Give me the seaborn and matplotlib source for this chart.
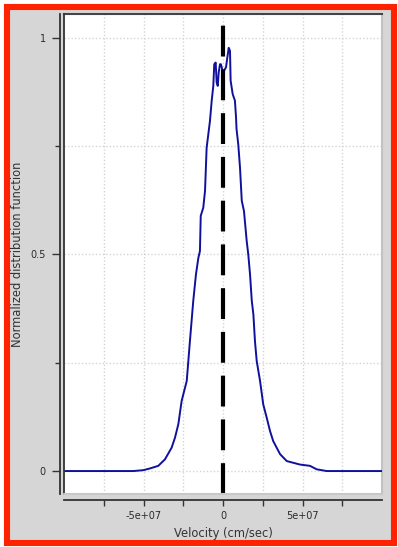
import matplotlib
matplotlib.use("Agg")
import matplotlib.pyplot as plt
from matplotlib.patches import Rectangle
from matplotlib.lines import Line2D
import seaborn as sns
import pandas as pd

# velocity in units of 1e7 cm/sec
velocity = [-10.0, -7.74, -6.16, -5.64, -5.01, -4.59, -4.07, -3.65, -3.23, -3.02,
            -2.81, -2.60, -2.28, -2.08, -1.87, -1.70, -1.55, -1.45, -1.40, -1.24,
            -1.13, -1.03, -0.82, -0.71, -0.61, -0.55, -0.46, -0.40, -0.33, -0.27,
            -0.19, -0.13, 0.0, 0.19, 0.27, 0.36, 0.44, 0.48, 0.61, 0.75,
            0.82, 0.85, 0.96, 1.07, 1.18, 1.32, 1.49, 1.59, 1.70, 1.81,
            1.91, 2.01, 2.12, 2.33, 2.53, 2.75, 2.96, 3.16, 3.59, 4.01,
            4.84, 5.47, 5.89, 6.52, 10.0]
distribution = [0.0, 0.0, 0.0, 0.0, 0.002, 0.006, 0.012, 0.027, 0.054, 0.077,
                0.108, 0.162, 0.208, 0.300, 0.393, 0.454, 0.492, 0.508, 0.589, 0.608,
                0.647, 0.746, 0.808, 0.855, 0.889, 0.939, 0.943, 0.897, 0.889, 0.920,
                0.939, 0.939, 0.920, 0.932, 0.954, 0.977, 0.970, 0.901, 0.870, 0.855,
                0.816, 0.790, 0.754, 0.700, 0.624, 0.600, 0.531, 0.500, 0.454, 0.393,
                0.362, 0.300, 0.254, 0.208, 0.154, 0.123, 0.092, 0.069, 0.039, 0.023,
                0.015, 0.012, 0.004, 0.0, 0.0]

x_major = [-5e7, 0, 5e7]
x_major_labels = ["-5e+07", "0", "5e+07"]
x_minor = [-7.5e7, -2.5e7, 2.5e7, 7.5e7]
y_major = [0, 0.5, 1]
y_major_labels = ["0", "0.5", "1"]
y_minor = [0.25, 0.75]
mean_velocity = 0.0

df = pd.DataFrame({"v": [v * 1e7 for v in velocity], "f": distribution})

sns.set_style("white")
plt.rcParams["font.family"] = ["DejaVu Sans"]

W, H = 398, 547
fig = plt.figure(figsize=(W / 100, H / 100), dpi=100, facecolor="white")

# grey panel with red frame
frame = Rectangle((7 / W, 4 / H), 387 / W, 536 / H, transform=fig.transFigure,
                  facecolor="#d6d6d6", edgecolor="#ff2200", linewidth=4.4, zorder=-10)
fig.patches.append(frame)

ax = fig.add_axes([64 / W, 53 / H, 318 / W, 480 / H])
ax.set_zorder(5)
ax.set_facecolor("white")

sns.lineplot(data=df, x="v", y="f", ax=ax, color="#10109c", linewidth=1.4, zorder=3)
ax.axvline(mean_velocity, ymin=0, ymax=0.983, color="black", linewidth=3.0,
           dashes=(7.4, 3.1), zorder=4)

ax.set_xlim(-1e8, 1e8)
ax.set_ylim(-0.053, 1.055)

ax.set_xticks(x_major)
ax.set_xticklabels(x_major_labels)
ax.set_xticks(x_minor, minor=True)
ax.set_yticks(y_major)
ax.set_yticklabels(y_major_labels)
ax.set_yticks(y_minor, minor=True)

for xv in x_major + x_minor:
    ax.axvline(xv, color="#d4d4d4", linewidth=1.0, linestyle=(0, (1, 1.5)), zorder=1)
for yv in y_major + y_minor:
    ax.axhline(yv, color="#d4d4d4", linewidth=1.0, linestyle=(0, (1, 1.5)), zorder=1)

ax.tick_params(axis="both", which="both", direction="out", colors="#333333",
               labelcolor="#2a2a2a", labelsize=7, width=1.0)
ax.tick_params(axis="y", which="major", length=5.8, pad=4.3, left=True)
ax.tick_params(axis="y", which="minor", length=3.6, left=True)
ax.tick_params(axis="x", which="both", length=4.3, pad=3.5, bottom=True)

ax.spines["left"].set_position(("outward", 2.9))
ax.spines["bottom"].set_position(("outward", 4.3))
for side in ["left", "bottom"]:
    ax.spines[side].set_color("#333333")
    ax.spines[side].set_linewidth(1.3)
ax.spines["top"].set_color("#444444")
ax.spines["top"].set_linewidth(1.5)
ax.spines["right"].set_color("#c2c2c2")
ax.spines["right"].set_linewidth(1.5)

# inner border of the plot box
ax.add_line(Line2D([0, 0], [0, 1], transform=ax.transAxes, color="#333333",
                   linewidth=1.3, clip_on=False, zorder=5))
ax.add_line(Line2D([0, 1], [0, 0], transform=ax.transAxes, color="#c8c8c8",
                   linewidth=1.5, clip_on=False, zorder=5))

ax.set_xlabel("Velocity (cm/sec)", fontsize=8.3, color="#333333", labelpad=4.5)
ax.set_ylabel("Normalized distribution function", fontsize=8.3, color="#333333", labelpad=5)

fig.savefig("out.png", dpi=100, facecolor=fig.get_facecolor())
